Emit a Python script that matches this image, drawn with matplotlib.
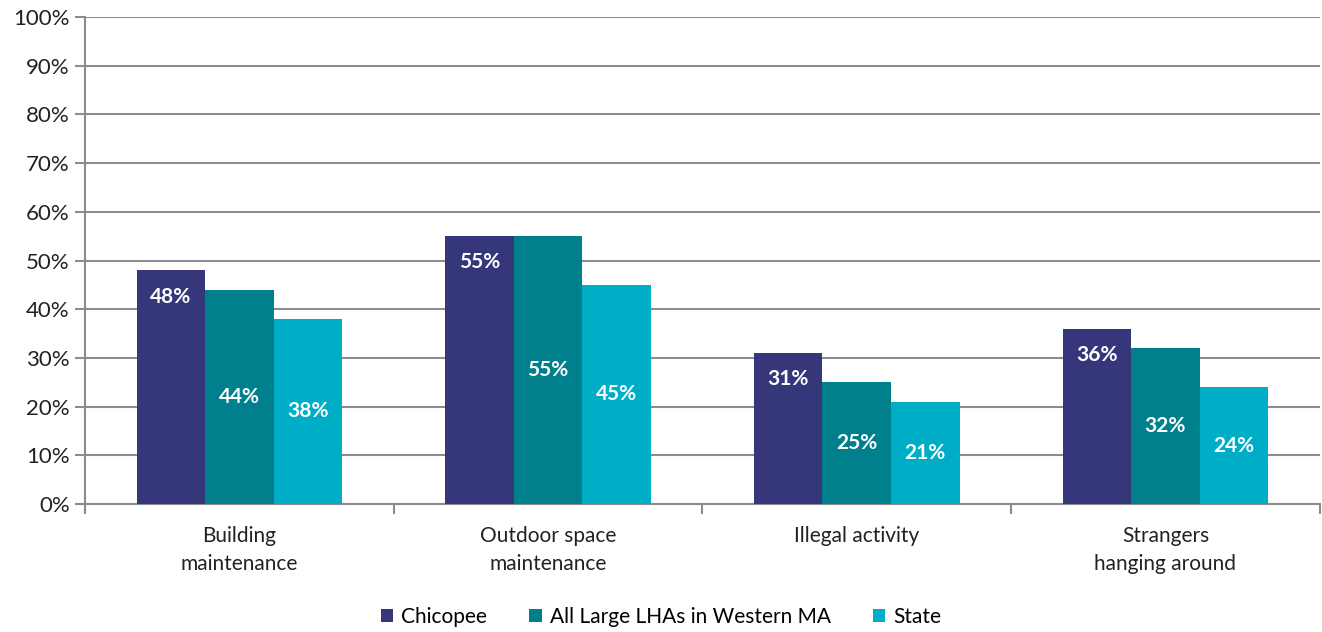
import numpy as np
import matplotlib.pyplot as plt

categories = ['Building\nmaintenance', 'Outdoor space\nmaintenance', 'Illegal activity', 'Strangers\nhanging around']
series = ['Chicopee', 'All Large LHAs in Western MA', 'State']
chicopee = [48, 55, 31, 36]
large_lhas = [44, 55, 25, 32]
state = [38, 45, 21, 24]
colors = ['#35377a', '#007f8c', '#00adc6']

plt.rcParams['font.family'] = ['Lato', 'DejaVu Sans']

fig = plt.figure(figsize=(13.22, 6.32), dpi=100)
ax = fig.add_axes([0.0643, 0.2025, 0.934, 0.7705])

x = np.arange(len(categories))
w = 0.222
for i, (vals, name) in enumerate(zip([chicopee, large_lhas, state], series)):
    pos = x + (i - 1) * w
    bars = ax.bar(pos, vals, w, color=colors[i], label=name, zorder=3)
    for b, v in zip(bars, vals):
        if i == 0:
            y = v - 5.4
        else:
            y = v / 2
        ax.text(b.get_x() + b.get_width() / 2, y, f'{v}%', ha='center', va='center',
                color='white', fontsize=15, fontweight='bold', zorder=4)

ax.set_ylim(0, 100)
ax.set_xlim(-0.5, len(categories) - 0.5)
ax.set_yticks(np.arange(0, 101, 10))
ax.set_yticklabels([f'{t}%' for t in range(0, 101, 10)], fontsize=16, color='#222222')
ax.yaxis.grid(True, color='#8c8c8c', linewidth=1.5, zorder=0)
ax.set_axisbelow(True)

ax.set_xticks(x)
ax.set_xticklabels(categories, fontsize=15, color='#222222', linespacing=1.5)
ax.tick_params(axis='x', length=0, pad=16)
ax.set_xticks(np.arange(-0.5, len(categories), 1), minor=True)
ax.tick_params(axis='x', which='minor', length=7, color='#8c8c8c', width=1.5)
ax.tick_params(axis='y', length=7, color='#8c8c8c', width=1.5, pad=4)

for s in ['top', 'right']:
    ax.spines[s].set_visible(False)
for s in ['left', 'bottom']:
    ax.spines[s].set_color('#8c8c8c')
    ax.spines[s].set_linewidth(1.5)

fig.legend(loc='center', bbox_to_anchor=(0.5, 15 / 632), ncol=3, frameon=False,
           fontsize=15, handlelength=0.6, handleheight=0.6, columnspacing=2.0,
           handletextpad=0.4)

fig.savefig('out.png', dpi=100)
